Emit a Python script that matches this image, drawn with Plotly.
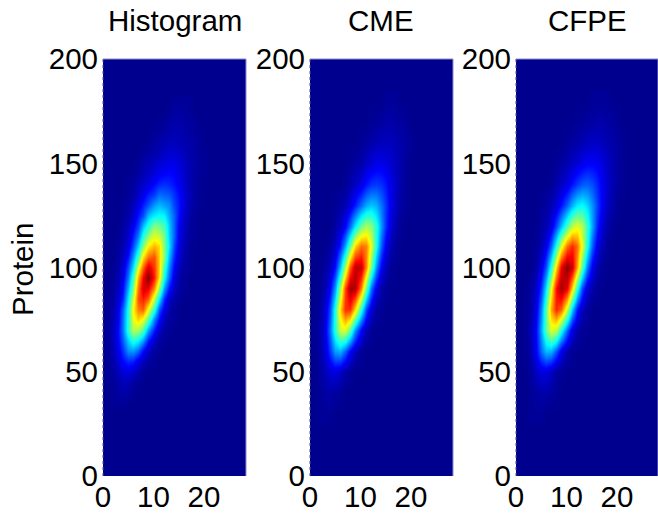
import plotly.graph_objects as go

x_bins = list(range(0, 24))
y_bins = [30,40,50,60,70,80,90,100,110,120,130,140,150,160,170,180]
hist_y_bins = [35,40,45,50,55,60,65,70,75,80,85,90,95,100,105,110,115,120,125,130,135,140,145,150,155,160,165,170,175,180]
cme = [
[0,0,1,1,1],
[0,0,1,2,3,2,1],
[0,0,2,5,8,9,7,3,1],
[0,0,3,8,18,28,30,22,12,5,1],
[0,1,3,10,24,42,57,59,46,27,12,4,1],
[0,0,2,8,20,41,66,83,83,66,41,20,8,2,1],
[0,0,1,4,12,28,53,80,97,95,75,48,24,10,3,1],
[0,0,0,2,5,14,31,54,79,94,93,74,49,27,12,4,1],
[0,0,0,0,2,6,15,29,48,67,77,75,60,40,22,10,4,1],
[0,0,0,0,0,2,6,12,23,36,48,54,51,41,28,16,8,3,1],
[0,0,0,0,0,1,2,4,9,15,23,29,32,30,24,17,10,5,2,1],
[0,0,0,0,0,0,0,1,3,6,9,14,17,18,17,14,9,6,3,1],
[0,0,0,0,0,0,0,0,1,2,3,6,8,10,10,9,7,5,3,1],
[0,0,0,0,0,0,0,0,0,0,1,2,3,4,5,5,5,4,3,2,1],
[0,0,0,0,0,0,0,0,0,0,0,0,1,1,2,3,3,2,2,1],
[0,0,0,0,0,0,0,0,0,0,0,0,0,0,0,1,1,1],
]
cfpe = [
[0,0,0,1,1,1],
[0,0,0,1,2,3,3,2,1],
[0,0,0,2,6,9,9,6,2,1],
[0,0,1,4,12,23,31,30,21,10,3,1],
[0,0,1,5,13,29,47,59,56,40,22,9,3,1],
[0,0,1,3,10,25,47,71,84,78,57,33,15,5,2],
[0,0,0,2,7,17,36,61,86,97,89,67,41,20,8,3,1],
[0,0,0,0,3,9,21,41,66,89,99,92,71,46,25,11,4,1],
[0,0,0,0,1,4,10,22,40,60,77,84,77,60,40,22,10,4,1],
[0,0,0,0,0,2,4,9,19,31,45,56,60,55,43,29,16,8,3,1],
[0,0,0,0,0,1,2,4,8,14,22,30,36,38,34,27,19,11,6,3,1],
[0,0,0,0,0,0,0,1,3,6,9,14,18,21,22,20,16,11,7,4,2,1],
[0,0,0,0,0,0,0,0,1,2,4,6,8,10,12,12,11,9,6,4,2,1],
[0,0,0,0,0,0,0,0,0,0,1,2,3,4,5,6,6,5,4,3,2,1],
[0,0,0,0,0,0,0,0,0,0,0,0,1,1,2,2,3,3,2,2,1],
[0,0,0,0,0,0,0,0,0,0,0,0,0,0,0,1,1,1,1],
]
hist = [
[0,0,1,1,1],
[0,0,1,2,3,2,1],
[0,1,1,3,5,4,2,1],
[0,1,2,5,8,9,7,4,1],
[0,1,3,8,13,16,15,9,5,2,1],
[0,1,4,10,18,27,28,23,13,6,2,1],
[0,1,5,12,22,33,41,37,28,15,7,2,1],
[0,2,5,13,25,42,55,53,45,28,15,6,2,1],
[0,1,4,11,25,41,60,67,60,46,26,13,5,2,1],
[0,1,3,10,23,40,63,75,78,61,42,21,10,3,1],
[0,1,2,7,17,36,57,80,85,79,57,36,17,7,3,1],
[0,0,2,5,14,30,50,76,92,89,74,52,28,14,6,2,1],
[0,0,1,4,11,24,44,70,88,100,85,65,39,22,9,3,1],
[0,0,1,3,8,20,35,59,78,92,82,67,44,26,12,5,2,1],
[0,0,0,2,6,14,28,45,66,77,80,67,51,30,16,7,3,1],
[0,0,0,1,4,9,20,33,52,64,70,66,50,35,19,9,4,1],
[0,0,0,1,3,7,15,25,41,52,60,57,49,33,22,10,5,2,1],
[0,0,0,0,2,5,11,18,31,40,50,48,44,32,22,11,6,2,1],
[0,0,0,0,1,3,7,14,20,31,36,38,37,29,22,13,7,3,1],
[0,0,0,0,1,2,5,9,15,20,27,30,28,26,19,14,8,4,2,1],
[0,0,0,0,0,1,3,6,10,15,18,23,22,21,17,13,8,5,2,1],
[0,0,0,0,0,1,2,4,7,9,13,16,17,16,14,11,7,4,2,1],
[0,0,0,0,0,0,1,2,4,6,8,11,12,13,12,9,7,4,2,1,1],
[0,0,0,0,0,0,0,1,3,4,6,8,9,10,10,8,6,4,3,1,1],
[0,0,0,0,0,0,0,0,1,2,3,4,6,7,7,6,5,3,2,1,1],
[0,0,0,0,0,0,0,0,0,1,2,3,4,5,5,4,4,3,2,1],
[0,0,0,0,0,0,0,0,0,0,1,1,2,3,4,4,3,2,1,1],
[0,0,0,0,0,0,0,0,0,0,0,1,1,2,3,3,2,2,1],
[0,0,0,0,0,0,0,0,0,0,0,0,0,1,2,2,2,1],
[0,0,0,0,0,0,0,0,0,0,0,0,0,0,1,1,1,1],
]
def pad(rows):
    return [row + [0] * (len(x_bins) - len(row)) for row in rows]
titles = ["Histogram", "CME", "CFPE"]
panels = [(pad(hist), hist_y_bins), (pad(cme), y_bins), (pad(cfpe), y_bins)]
x_ticks = [0, 10, 20]
y_ticks = [0, 50, 100, 150, 200]
jet = [[0,"#00008f"],[0.125,"#0000ff"],[0.375,"#00ffff"],[0.625,"#ffff00"],[0.875,"#ff0000"],[1,"#800000"]]
W, H = 658, 514
FONT = "Liberation Sans"
fig = go.Figure()
lefts = [103, 310, 516]
centers = [175, 381, 587]
for i, (z, ys) in enumerate(panels):
    n = "" if i == 0 else str(i+1)
    fig.add_trace(go.Heatmap(x=x_bins, y=ys, z=z, zmin=0, zmax=100, zsmooth="best",
                             colorscale=jet, showscale=False, xaxis="x"+n, yaxis="y"+n))
    d0 = lefts[i]/W; d1 = (lefts[i]+143)/W
    fig.layout["xaxis"+n] = dict(domain=[d0, min(d1,1)], range=[0, 143/5.05 if i<2 else 142/5.05], tickvals=x_ticks, ticks="",
        showgrid=False, zeroline=False, showline=False, anchor="y"+n, automargin=False,
        tickfont=dict(family=FONT, size=29.5, color="black"))
    fig.layout["yaxis"+n] = dict(domain=[1-476/H, 1-59/H], range=[0, 200], tickvals=y_ticks, ticks="",
        showgrid=False, zeroline=False, showline=False, anchor="x"+n, automargin=False,
        ticklabelstandoff=4,
        tickfont=dict(family=FONT, size=29.5, color="black"))
    fig.add_annotation(text=titles[i], xref="paper", yref="paper", x=centers[i]/W, y=1-21/H,
        xanchor="center", yanchor="middle",
        showarrow=False, font=dict(family=FONT, size=29.5, color="black"))
    xref = "x"+n+" domain"; yref = "y"+n+" domain"
    fig.add_shape(type="line", xref=xref, yref=yref, x0=0, x1=0, y0=0, y1=1, line=dict(color="#555577", width=1, dash="dot"))
    fig.add_shape(type="line", xref=xref, yref=yref, x0=0, x1=1, y0=1, y1=1, line=dict(color="#8c8cc8", width=1))
    fig.add_shape(type="line", xref=xref, yref=yref, x0=1, x1=1, y0=0, y1=1, line=dict(color="#8c8cc8", width=1))
fig.add_annotation(text="Protein", xref="paper", yref="paper", x=22/W, y=1-270/H, textangle=-90,
    xanchor="center", yanchor="middle",
    showarrow=False, font=dict(family=FONT, size=29.5, color="black"))
fig.update_layout(width=W, height=H, margin=dict(l=0,r=0,t=0,b=0,autoexpand=False), paper_bgcolor="white",
    plot_bgcolor="#00008f", showlegend=False)
fig.write_html("out.html", config=dict(displayModeBar=False), post_script="document.body.style.margin='0';")
